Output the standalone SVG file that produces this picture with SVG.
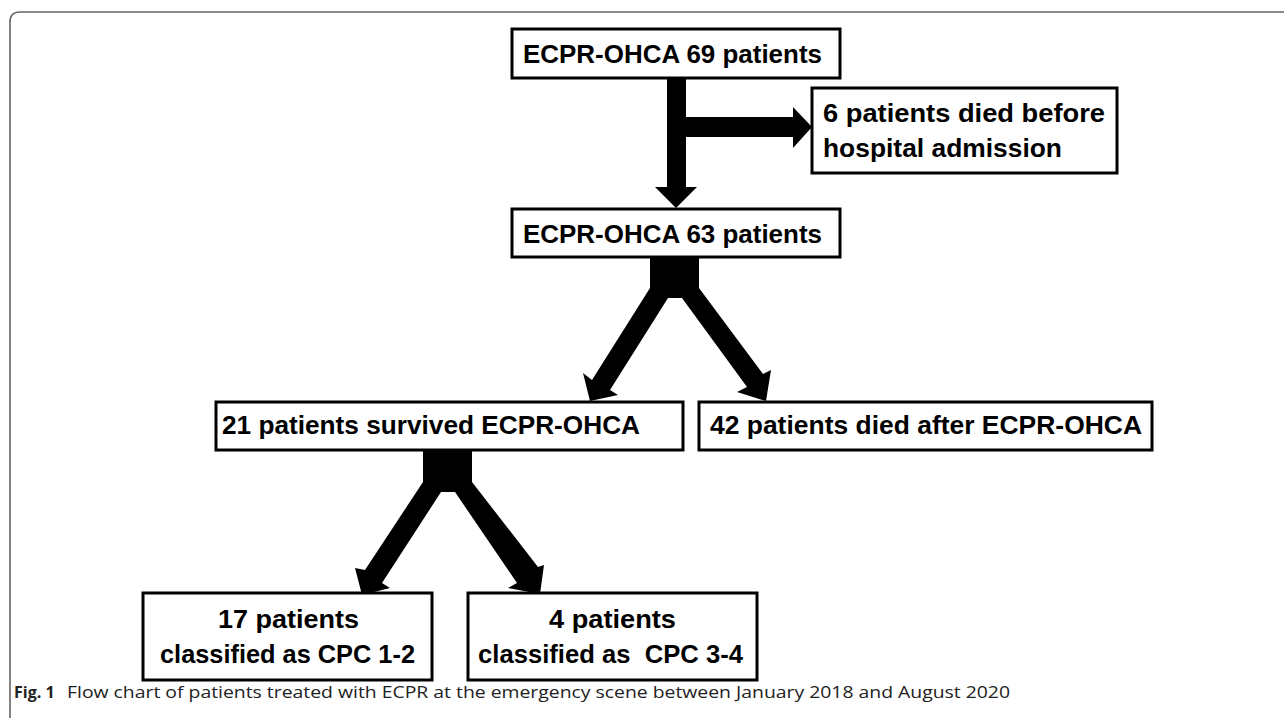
<svg xmlns="http://www.w3.org/2000/svg" width="1284" height="718" viewBox="0 0 1284 718">
<style>
.box{fill:#fff;stroke:#000;stroke-width:3}
.t{font-family:"Liberation Sans",Arial,sans-serif;font-weight:bold;font-size:26px;fill:#000}
.c{font-family:"Open Sans","Liberation Sans",sans-serif;font-size:16px;fill:#222}
.arrow{fill:#000;stroke:none}
</style>
<rect x="0" y="0" width="1284" height="718" fill="#fff"/>
<path d="M10 718 V22 Q10 12 20 12 H1284" fill="none" stroke="#666" stroke-width="1.6"/>
<g id="connectors">
<polygon class="arrow" points="667,78 686,78 686,117 793,117 793,107 812,127 793,148 793,137 686,137 686,187 697,187 676,208 655,187 667,187"/>
<polygon class="arrow" points="650,257 699,257 699,288 763,374 771,370 766,401 737,392 747,387 682,298 668,298 610,390 618,395 590,401 583,373 592,380 650,288"/>
<polygon class="arrow" points="423,450 472,450 472,482 538,567 544,565 540,594 508,588 517,583 455,492 441,492 382,583 390,588 362,595 355,568 365,570 423,482"/>
</g>
<g id="n1"><rect class="box" x="512" y="29" width="328" height="49"/><text class="t" x="523" y="63" textLength="299" lengthAdjust="spacingAndGlyphs">ECPR-OHCA 69 patients</text></g>
<g id="n2"><rect class="box" x="812" y="88" width="305" height="85"/><text class="t" x="823" y="122" textLength="282" lengthAdjust="spacingAndGlyphs">6 patients died before</text><text class="t" x="823" y="157" textLength="239" lengthAdjust="spacingAndGlyphs">hospital admission</text></g>
<g id="n3"><rect class="box" x="512" y="209" width="328" height="48"/><text class="t" x="523" y="243" textLength="299" lengthAdjust="spacingAndGlyphs">ECPR-OHCA 63 patients</text></g>
<g id="n4"><rect class="box" x="216" y="402" width="467" height="48"/><text class="t" x="222" y="434" textLength="418" lengthAdjust="spacingAndGlyphs">21 patients survived ECPR-OHCA</text></g>
<g id="n5"><rect class="box" x="699" y="402" width="453" height="48"/><text class="t" x="710" y="434" textLength="432" lengthAdjust="spacingAndGlyphs">42 patients died after ECPR-OHCA</text></g>
<g id="n6"><rect class="box" x="143" y="593" width="289" height="87"/><text class="t" x="218" y="628" textLength="141" lengthAdjust="spacingAndGlyphs">17 patients</text><text class="t" x="160" y="663" textLength="255" lengthAdjust="spacingAndGlyphs">classified as CPC 1-2</text></g>
<g id="n7"><rect class="box" x="468" y="593" width="289" height="87"/><text class="t" x="549" y="628" textLength="127" lengthAdjust="spacingAndGlyphs">4 patients</text><text class="t" x="478" y="663" textLength="265" lengthAdjust="spacingAndGlyphs" style="white-space:pre">classified as  CPC 3-4</text></g>
<g id="caption"><text class="c" x="14" y="698"><tspan font-weight="bold">Fig. 1</tspan><tspan x="67" textLength="943" lengthAdjust="spacingAndGlyphs">Flow chart of patients treated with ECPR at the emergency scene between January 2018 and August 2020</tspan></text></g>
</svg>
